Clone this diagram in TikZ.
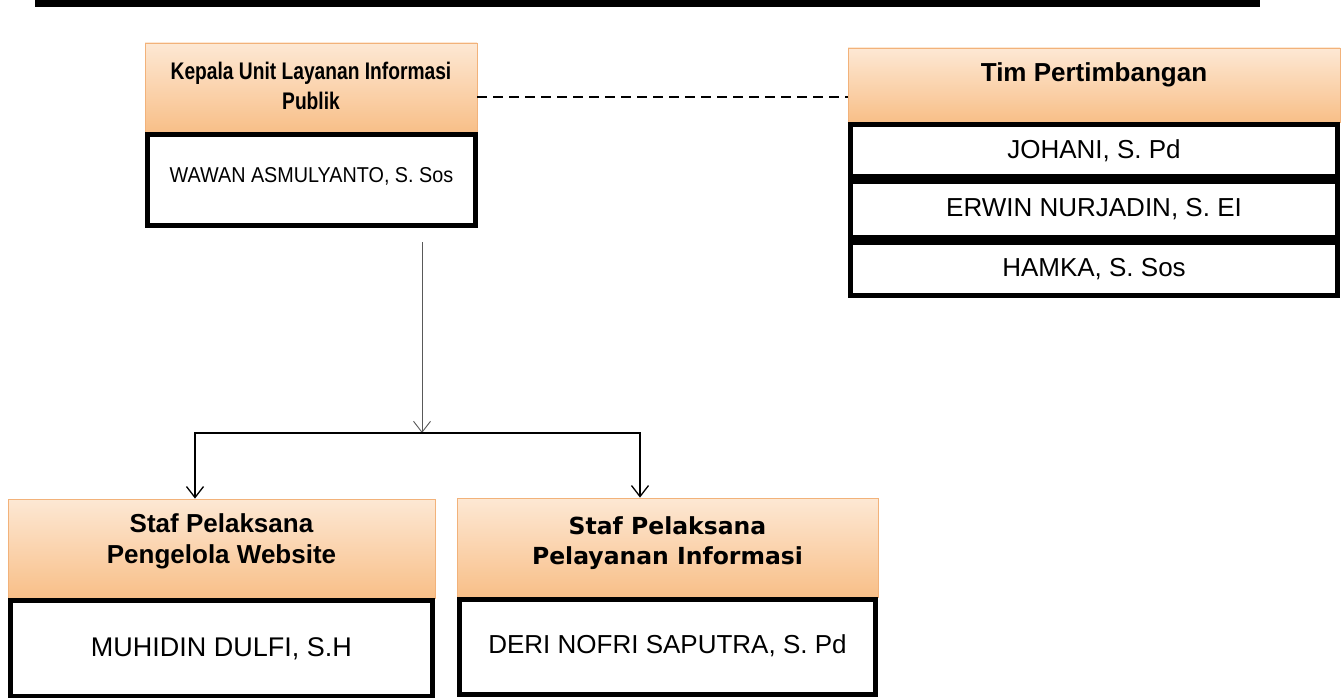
\documentclass[tikz,border=0pt]{standalone}
\usepackage{fontspec}
\setmainfont{Liberation Sans}
\newfontfamily\kfont[FakeStretch=0.8]{Liberation Sans}
\newfontfamily\wfont[FakeStretch=0.92]{Liberation Sans}
\newfontfamily\verdfont{DejaVu Sans}
\usetikzlibrary{arrows.meta,calc}
\definecolor{hdrtop}{HTML}{FDE8D4}
\definecolor{hdrbot}{HTML}{F8BF88}
\definecolor{hdrline}{HTML}{F2B27A}
\tikzset{
  hdr/.style={draw=hdrline, line width=0.8pt, top color=hdrtop, bottom color=hdrbot, inner sep=0pt},
  namebox/.style={draw=black, line width=5pt, fill=white, inner sep=0pt},
  hdrtext/.style={font=\bfseries\fontsize{26}{31}\selectfont, align=center, inner sep=0pt},
  nametext/.style={font=\fontsize{26}{31}\selectfont},
  arr/.style={-{Straight Barb[length=11pt,width=17pt]}, line width=1.3pt, draw=black},
  thinarr/.style={-{Straight Barb[length=11pt,width=17pt]}, line width=0.9pt, draw=black!65},
}
\begin{document}
\begin{tikzpicture}[x=1pt,y=-1pt]
\useasboundingbox[fill=white] (0,0) rectangle (1342,698);
% top rule
\fill[black] (35,0) rectangle (1260,7);

% Kepala
\node[hdr, minimum width=332pt, minimum height=89pt] (k) at (311,87.5) {};
\node[hdrtext, font=\kfont\bfseries\fontsize{24}{30}\selectfont] (kt) at ([yshift=2pt]k.center) {Kepala Unit Layanan Informasi\\Publik};
\node[namebox, minimum width=328pt, minimum height=91pt, font=\wfont\fontsize{21.5}{26}\selectfont] (kn) at (311.5,180) {\raisebox{10pt}{WAWAN ASMULYANTO, S. Sos}};

% Tim Pertimbangan
\node[hdr, minimum width=492pt, minimum height=74pt] (t) at (1094,85) {};
\node[hdrtext] (tt) at ([yshift=10pt]t.center) {Tim Pertimbangan};
\node[namebox, nametext, minimum width=487pt, minimum height=52pt] (t1) at (1094,150.5) {JOHANI, S. Pd};
\node[namebox, nametext, minimum width=487pt, minimum height=56pt] (t2) at (1094,209.5) {ERWIN NURJADIN, S. EI};
\node[namebox, nametext, minimum width=487pt, minimum height=53pt] (t3) at (1094,269) {HAMKA, S. Sos};

% dashed link
\draw[line width=1.2pt, dash pattern=on 10pt off 6pt] ([yshift=-9.5pt]k.east) -- ([yshift=-9.5pt]k.east -| t.west);

% Staf Pengelola Website
\node[hdr, minimum width=427pt, minimum height=99pt] (sl) at (221.5,548.5) {};
\node[hdrtext] (slt) at ([yshift=7.5pt]sl.center) {Staf Pelaksana\\Pengelola Website};
\node[namebox, minimum width=422pt, minimum height=96pt, font=\fontsize{27}{32}\selectfont] (sln) at (221.5,648.5) {MUHIDIN DULFI, S.H};

% Staf Pelayanan Informasi
\node[hdr, minimum width=421pt, minimum height=99pt] (sr) at (667.5,547.5) {};
\node[hdrtext, font=\verdfont\bfseries\fontsize{23.5}{30}\selectfont] (srt) at ([yshift=4.5pt]sr.center) {Staf Pelaksana\\Pelayanan Informasi};
\node[namebox, nametext, minimum width=416pt, minimum height=95pt] (srn) at (667.5,647) {\raisebox{6pt}{DERI NOFRI SAPUTRA, S. Pd}};

% connectors
\coordinate (j) at (422,433);
\coordinate (la) at ([xshift=-26.5pt]sl.north);
\coordinate (ra) at ([xshift=-27.5pt]sr.north);
\draw[thinarr] ([xshift=110.5pt,yshift=-14pt]kn.south) -- (j);
\draw[arr] (j) -| (la);
\draw[arr] (j) -| (ra);
\end{tikzpicture}
\end{document}
